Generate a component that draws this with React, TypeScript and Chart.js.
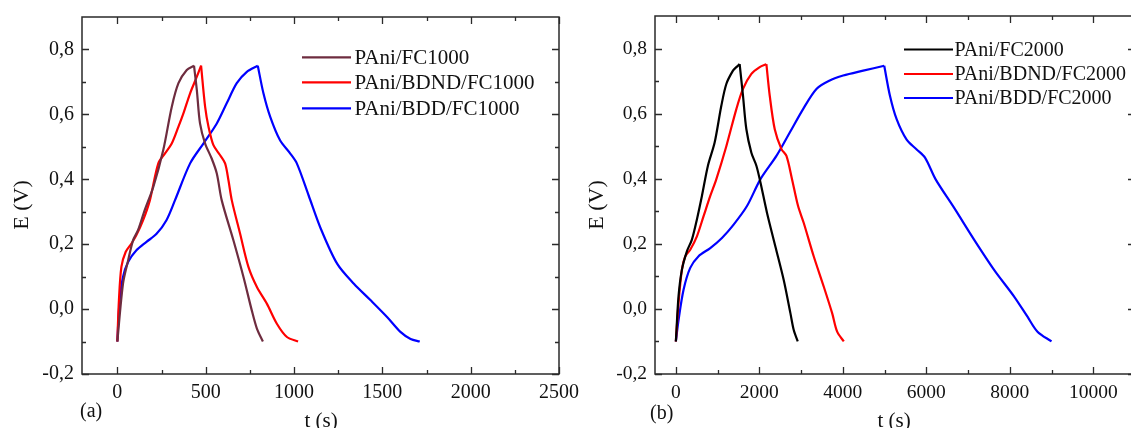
import React, { useEffect, useRef } from "react";
import { Chart, registerables } from "chart.js";
Chart.register(...registerables);

// ---------- Panel (a) data ----------
const A_X_TICKS = [0, 500, 1000, 1500, 2000, 2500];
const A_X_MINOR = [250, 750, 1250, 1750, 2250];
const Y_TICKS = [-0.2, 0, 0.2, 0.4, 0.6, 0.8];
const Y_MINOR = [-0.1, 0.1, 0.3, 0.5, 0.7];

const A_FC_T = [0, 32, 61, 89, 117, 155, 204, 260, 308, 346, 393, 434, 450, 468, 497, 534, 563, 591, 657, 714, 761, 790, 824];
const A_FC_E = [-0.1, 0.078, 0.15, 0.212, 0.243, 0.305, 0.377, 0.49, 0.623, 0.696, 0.737, 0.75, 0.675, 0.572, 0.51, 0.464, 0.418, 0.335, 0.212, 0.099, -0.004, -0.06, -0.1];

const A_BDND_T = [0, 9, 23, 47, 80, 108, 146, 184, 232, 270, 308, 346, 374, 412, 450, 474, 497, 516, 544, 582, 610, 629, 648, 695, 742, 790, 847, 903, 960, 1023];
const A_BDND_E = [-0.1, 0.027, 0.13, 0.176, 0.202, 0.228, 0.274, 0.335, 0.449, 0.48, 0.51, 0.562, 0.603, 0.665, 0.716, 0.75, 0.623, 0.562, 0.505, 0.474, 0.449, 0.397, 0.335, 0.232, 0.13, 0.068, 0.016, -0.045, -0.086, -0.1];

const A_BDD_T = [0, 13, 32, 61, 108, 165, 222, 278, 326, 412, 487, 563, 619, 676, 733, 795, 827, 865, 921, 978, 1016, 1083, 1150, 1244, 1339, 1434, 1528, 1604, 1660, 1712];
const A_BDD_E = [-0.1, 0.027, 0.099, 0.145, 0.181, 0.207, 0.232, 0.274, 0.335, 0.449, 0.51, 0.572, 0.634, 0.696, 0.731, 0.75, 0.665, 0.593, 0.52, 0.48, 0.449, 0.35, 0.25, 0.14, 0.078, 0.027, -0.025, -0.071, -0.092, -0.1];

// ---------- Panel (b) data ----------
const B_X_TICKS = [0, 2000, 4000, 6000, 8000, 10000];
const B_X_MINOR = [1000, 3000, 5000, 7000, 9000];

const B_FC_T = [0, 64, 144, 264, 384, 504, 624, 768, 929, 1089, 1209, 1368, 1450, 1528, 1608, 1689, 1809, 1929, 2024, 2184, 2384, 2584, 2744, 2824, 2920];
const B_FC_E = [-0.1, 0.039, 0.12, 0.177, 0.213, 0.275, 0.347, 0.44, 0.511, 0.624, 0.691, 0.732, 0.743, 0.752, 0.655, 0.552, 0.48, 0.44, 0.39, 0.295, 0.192, 0.089, -0.013, -0.065, -0.1];

const B_BDND_T = [0, 64, 144, 224, 344, 504, 664, 824, 968, 1209, 1449, 1608, 1809, 2009, 2169, 2249, 2369, 2529, 2649, 2784, 2928, 3064, 3304, 3544, 3744, 3864, 4024];
const B_BDND_E = [-0.1, 0.018, 0.12, 0.161, 0.182, 0.223, 0.285, 0.347, 0.398, 0.5, 0.614, 0.676, 0.722, 0.743, 0.752, 0.655, 0.552, 0.491, 0.47, 0.398, 0.316, 0.264, 0.161, 0.068, -0.013, -0.07, -0.1];

const B_BDD_T = [0, 64, 184, 344, 544, 824, 1104, 1384, 1704, 2024, 2409, 2729, 3048, 3368, 3688, 4008, 4488, 4992, 5129, 5289, 5529, 5769, 5969, 6224, 6664, 7144, 7624, 8104, 8424, 8664, 9000];
const B_BDD_E = [-0.1, -0.034, 0.059, 0.126, 0.162, 0.187, 0.218, 0.259, 0.316, 0.398, 0.47, 0.542, 0.614, 0.676, 0.702, 0.717, 0.732, 0.747, 0.655, 0.583, 0.52, 0.49, 0.465, 0.398, 0.311, 0.213, 0.12, 0.038, -0.024, -0.07, -0.1];

const A_LABELS = ["PAni/FC1000", "PAni/BDND/FC1000", "PAni/BDD/FC1000"];
const B_LABELS = ["PAni/FC2000", "PAni/BDND/FC2000", "PAni/BDD/FC2000"];
const A_COLORS = ["#6e2c3f", "#ff0000", "#0000ff"];
const B_COLORS = ["#000000", "#ff0000", "#0000ff"];

const FONT = "'Liberation Serif', 'Times New Roman', serif";
const AXIS_COLOR = "#2a2a2a";

type PanelCfg = {
  xMin: number; xMax: number;
  xTicks: number[]; xMinor: number[];
  series: { t: number[]; e: number[] }[];
  labels: string[]; colors: string[];
  width: number; height: number;
  yAxisWidth: number; padRight: number; padTop: number; xAxisHeight: number;
  tickFont: number;
  legend: { x1: number; x2: number; tx: number; rows: number[]; font: number };
  yTitle: { x: number; y: number; font: number };
  xTitle: { x: number; y: number; font: number };
  tag: { text: string; x: number; y: number; font: number };
};

function buildDatasets(cfg: PanelCfg) {
  const ds: any[] = [];
  cfg.series.forEach((s, i) => {
    let peak = 0;
    s.e.forEach((v, k) => { if (v > s.e[peak]) peak = k; });
    const pts = s.t.map((t, k) => ({ x: t, y: s.e[k] }));
    const common = {
      borderColor: cfg.colors[i], backgroundColor: cfg.colors[i], borderWidth: 2.2,
      pointRadius: 0, tension: 0.3, fill: false,
    };
    ds.push({ ...common, label: cfg.labels[i], data: pts.slice(0, peak + 1) });
    ds.push({ ...common, label: cfg.labels[i] + " ", data: pts.slice(peak) });
  });
  return ds;
}

function decoPlugin(cfg: PanelCfg) {
  return {
    id: "deco",
    afterDatasetsDraw(chart: any) {
      const { ctx, chartArea: a, scales } = chart;
      const xs = scales.x, ys = scales.y;
      ctx.save();
      ctx.strokeStyle = AXIS_COLOR;
      ctx.lineWidth = 1.5;
      ctx.strokeRect(a.left, a.top, a.right - a.left, a.bottom - a.top);
      const MAJ = 7, MIN = 4;
      ctx.lineWidth = 1.3;
      ctx.beginPath();
      const xt = (v: number, len: number) => {
        const p = Math.round(xs.getPixelForValue(v)) + 0.5;
        ctx.moveTo(p, a.bottom); ctx.lineTo(p, a.bottom - len);
        ctx.moveTo(p, a.top); ctx.lineTo(p, a.top + len);
      };
      const yt = (v: number, len: number) => {
        const p = Math.round(ys.getPixelForValue(v)) + 0.5;
        ctx.moveTo(a.left, p); ctx.lineTo(a.left + len, p);
        ctx.moveTo(a.right, p); ctx.lineTo(a.right - len, p);
      };
      cfg.xTicks.forEach((v) => xt(v, MAJ));
      cfg.xMinor.forEach((v) => xt(v, MIN));
      Y_TICKS.forEach((v) => yt(v, MAJ));
      Y_MINOR.forEach((v) => yt(v, MIN));
      ctx.stroke();
      ctx.restore();
    },
    afterDraw(chart: any) {
      const { ctx } = chart;
      ctx.save();
      ctx.fillStyle = "#111";
      const L = cfg.legend;
      ctx.font = `${L.font}px ${FONT}`;
      ctx.textBaseline = "middle";
      ctx.textAlign = "left";
      cfg.labels.forEach((lab, i) => {
        const y = L.rows[i];
        ctx.strokeStyle = cfg.colors[i];
        ctx.lineWidth = 2.2;
        ctx.beginPath(); ctx.moveTo(L.x1, y); ctx.lineTo(L.x2, y); ctx.stroke();
        ctx.fillText(lab, L.tx, y + 1);
      });
      ctx.save();
      ctx.font = `${cfg.yTitle.font}px ${FONT}`;
      ctx.translate(cfg.yTitle.x, cfg.yTitle.y);
      ctx.rotate(-Math.PI / 2);
      ctx.textAlign = "center"; ctx.textBaseline = "middle";
      ctx.fillText("E (V)", 0, 0);
      ctx.restore();
      ctx.font = `${cfg.xTitle.font}px ${FONT}`;
      ctx.textAlign = "center"; ctx.textBaseline = "alphabetic";
      ctx.fillText("t (s)", cfg.xTitle.x, cfg.xTitle.y);
      ctx.font = `${cfg.tag.font}px ${FONT}`;
      ctx.textAlign = "left";
      ctx.fillText(cfg.tag.text, cfg.tag.x, cfg.tag.y);
      ctx.restore();
    },
  };
}

function Panel({ cfg, left }: { cfg: PanelCfg; left: number }) {
  const ref = useRef<HTMLCanvasElement>(null);
  useEffect(() => {
    if (!ref.current) return;
    const fmt = (v: number) => (Math.abs(v) < 1e-9 ? "0,0" : v.toFixed(1).replace(".", ","));
    const chart = new Chart(ref.current, {
      type: "line",
      data: { datasets: buildDatasets(cfg) },
      options: {
        animation: false,
        responsive: false,
        maintainAspectRatio: false,
        devicePixelRatio: 1,
        layout: { padding: { top: cfg.padTop, right: cfg.padRight, left: 0, bottom: 0 } },
        plugins: { legend: { display: false }, tooltip: { enabled: false } },
        scales: {
          x: {
            type: "linear", min: cfg.xMin, max: cfg.xMax,
            grid: { display: false, drawTicks: false },
            border: { display: false },
            afterBuildTicks: (s: any) => { s.ticks = cfg.xTicks.map((v) => ({ value: v })); },
            afterFit: (s: any) => { s.height = cfg.xAxisHeight; s.paddingLeft = 0; s.paddingRight = 0; },
            ticks: {
              font: { family: FONT, size: cfg.tickFont }, color: "#111", padding: 7,
              maxRotation: 0, autoSkip: false,
              callback: (v: any) => String(v),
            },
          },
          y: {
            type: "linear", min: -0.2, max: 0.9,
            grid: { display: false, drawTicks: false },
            border: { display: false },
            afterBuildTicks: (s: any) => { s.ticks = Y_TICKS.map((v) => ({ value: v })); },
            afterFit: (s: any) => { s.width = cfg.yAxisWidth; s.paddingTop = 0; s.paddingBottom = 0; },
            ticks: {
              font: { family: FONT, size: cfg.tickFont }, color: "#111", padding: 8,
              autoSkip: false,
              callback: (v: any) => fmt(Number(v)),
            },
          },
        },
      } as any,
      plugins: [decoPlugin(cfg)],
    });
    return () => chart.destroy();
  }, [cfg]);
  return (
    <canvas
      ref={ref}
      width={cfg.width}
      height={cfg.height}
      style={{ position: "absolute", left, top: 0, width: cfg.width, height: cfg.height }}
    />
  );
}

const PANEL_A: PanelCfg = {
  xMin: -200, xMax: 2500, xTicks: A_X_TICKS, xMinor: A_X_MINOR,
  series: [{ t: A_FC_T, e: A_FC_E }, { t: A_BDND_T, e: A_BDND_E }, { t: A_BDD_T, e: A_BDD_E }],
  labels: A_LABELS, colors: A_COLORS,
  width: 600, height: 428,
  yAxisWidth: 82, padRight: 41, padTop: 17, xAxisHeight: 54,
  tickFont: 20,
  legend: { x1: 302, x2: 351, tx: 354.5, rows: [57.3, 82.3, 108.3], font: 21 },
  yTitle: { x: 22, y: 205, font: 22 },
  xTitle: { x: 321, y: 427, font: 21 },
  tag: { text: "(a)", x: 80, y: 417, font: 20 },
};

const PANEL_B: PanelCfg = {
  xMin: -500, xMax: 11000, xTicks: B_X_TICKS, xMinor: B_X_MINOR,
  series: [{ t: B_FC_T, e: B_FC_E }, { t: B_BDND_T, e: B_BDND_E }, { t: B_BDD_T, e: B_BDD_E }],
  labels: B_LABELS, colors: B_COLORS,
  width: 600, height: 428,
  yAxisWidth: 90, padRight: 30, padTop: 16, xAxisHeight: 54,
  tickFont: 19.5,
  legend: { x1: 339, x2: 388, tx: 389.5, rows: [49.5, 74, 98], font: 20 },
  yTitle: { x: 32, y: 205, font: 22 },
  xTitle: { x: 329, y: 427, font: 21 },
  tag: { text: "(b)", x: 85, y: 418.5, font: 20 },
};

export default function App() {
  return (
    <div style={{ position: "fixed", left: 0, top: 0, width: 1131, height: 428, overflow: "hidden", background: "#fff" }}>
      <Panel cfg={PANEL_A} left={0} />
      <Panel cfg={PANEL_B} left={565} />
    </div>
  );
}
